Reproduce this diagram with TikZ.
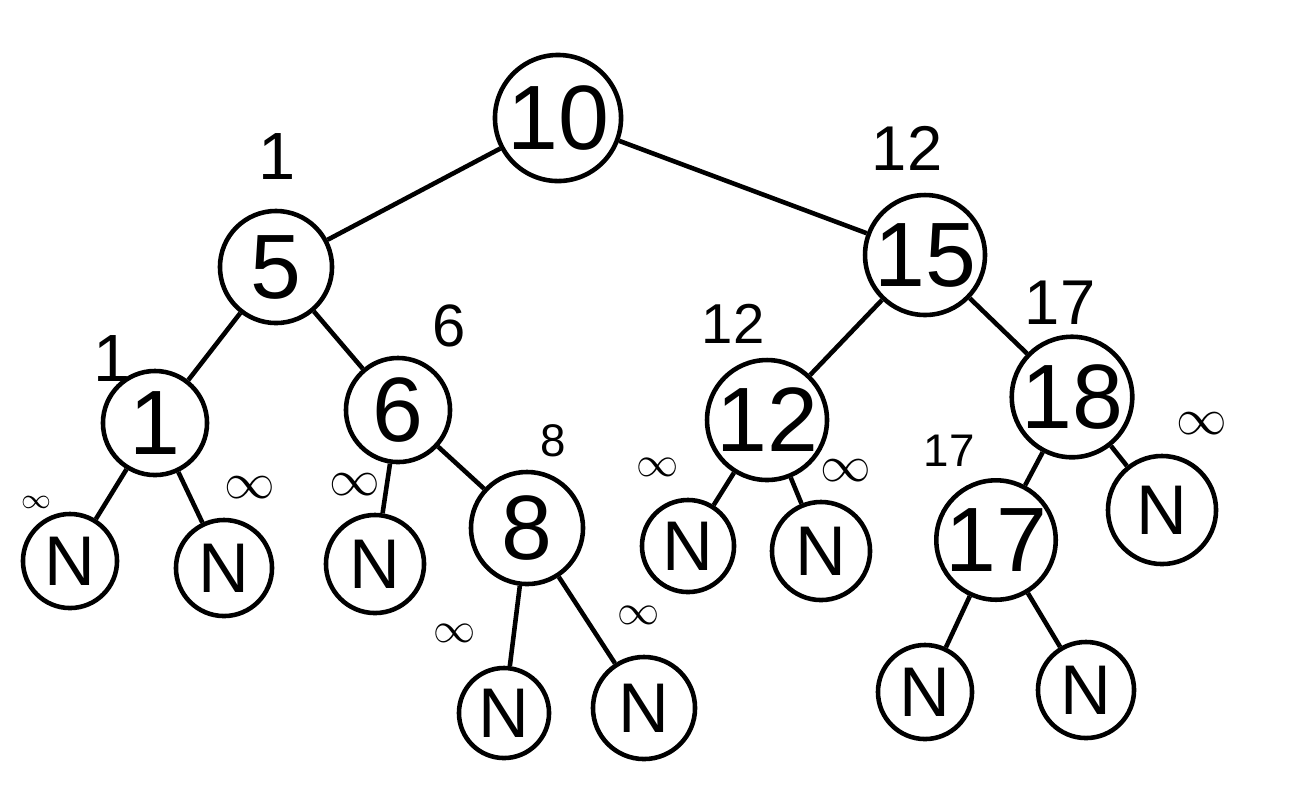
\documentclass[tikz,border=0pt]{standalone}
\usepackage{fontspec}
\setmainfont{Liberation Sans}
\begin{document}
\begin{tikzpicture}[x=0.01cm,y=-0.01cm,
  line width=1.3pt,
  key/.style={circle,draw,inner sep=0pt,font=\fontsize{26}{26}\selectfont},
  nil/.style={circle,draw,inner sep=0pt,font=\fontsize{20}{20}\selectfont},
  lbl/.style={inner sep=0pt,font=\fontsize{#1}{#1}\selectfont},
  inf/.style={inner sep=0pt,font=\fontsize{#1}{#1}\selectfont}]
\useasboundingbox (0,0) rectangle (1292,799);

% keys
\node[key,minimum size=1.26cm] (n10) at (558,118) {10};
\node[key,minimum size=1.12cm] (n5)  at (276,267) {5};
\node[key,minimum size=1.14cm] (n15) at (925,255) {15};
\node[key,minimum size=1.04cm] (n1)  at (155,423) {1};
\node[key,minimum size=1.04cm] (n6)  at (398,410) {6};
\node[key,minimum size=1.16cm] (n12) at (767,420) {12};
\node[key,minimum size=1.08cm] (n18) at (1072,397) {18};
\node[key,minimum size=1.12cm] (n8)  at (527,528) {8};
\node[key,minimum size=1.10cm] (n17) at (996,540) {17};

% empty leaves
\node[nil,minimum size=0.94cm] (a1) at (70,561)   {N};
\node[nil,minimum size=0.96cm] (a2) at (224,568)  {N};
\node[nil,minimum size=0.98cm] (a3) at (375,564)  {N};
\node[nil,minimum size=0.90cm] (a4) at (504,713)  {N};
\node[nil,minimum size=1.02cm] (a5) at (644,708)  {N};
\node[nil,minimum size=0.92cm] (a6) at (688,546)  {N};
\node[nil,minimum size=0.98cm] (a7) at (821,551)  {N};
\node[nil,minimum size=0.94cm] (a8) at (925,692)  {N};
\node[nil,minimum size=0.96cm] (a9) at (1086,690) {N};
\node[nil,minimum size=1.08cm] (a10) at (1162,510) {N};

% edges
\draw (n10) -- (n5);
\draw (n10) -- (n15);
\draw (n5) -- (n1);
\draw (n5) -- (n6);
\draw (n15) -- (n12);
\draw (n15) -- (n18);
\draw (n1) -- (a1);
\draw (n1) -- (a2);
\draw (n6) -- (a3);
\draw (n6) -- (n8);
\draw (n8) -- (a4);
\draw (n8) -- (a5);
\draw (n12) -- (a6);
\draw (n12) -- (a7);
\draw (n18) -- (n17);
\draw (n18) -- (a10);
\draw (n17) -- (a8);
\draw (n17) -- (a9);

% minimum-key annotations
\node[lbl=19] (m5)  at (277,157) {1};
\node[lbl=18] (m15) at (907,148) {12};
\node[lbl=19] (m1)  at (112,358) {1};
\node[lbl=17] (m6)  at (449,326) {6};
\node[lbl=16] (m12) at (733,324) {12};
\node[lbl=18] (m18) at (1060,303) {17};
\node[lbl=13] (m17) at (949,451) {17};
\node[lbl=13] (m8)  at (553,441) {8};

% infinity annotations
\node[inf=8]  (i1) at (36,502)   {$\infty$};
\node[inf=14] (i2) at (250,488)  {$\infty$};
\node[inf=14] (i3) at (355,485)  {$\infty$};
\node[inf=13] (i4) at (455,633)  {$\infty$};
\node[inf=12] (i5) at (639,615)  {$\infty$};
\node[inf=12] (i6) at (658,467)  {$\infty$};
\node[inf=14] (i7) at (846,471)  {$\infty$};
\node[inf=14] (i8) at (1202,424) {$\infty$};
\end{tikzpicture}
\end{document}
